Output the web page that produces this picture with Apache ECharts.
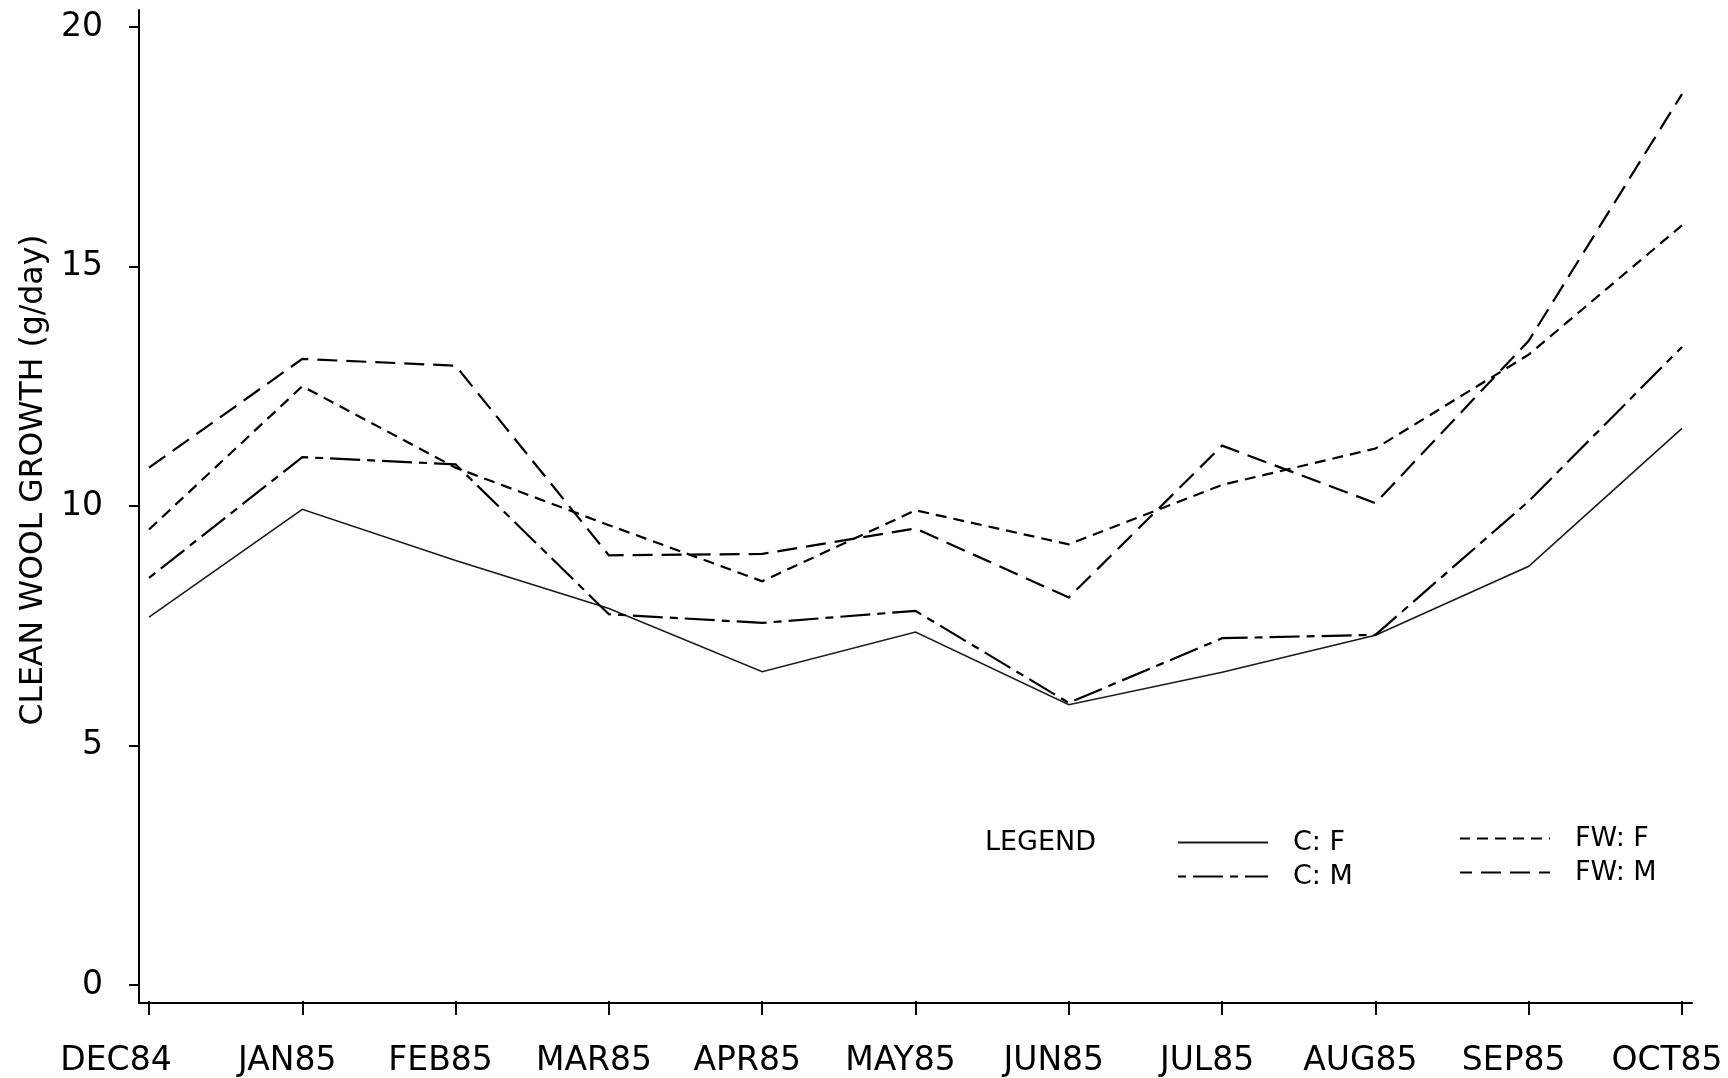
<!DOCTYPE html>
<html>
<head>
<meta charset="utf-8">
<title>Clean wool growth</title>
<script src="https://cdn.jsdelivr.net/npm/echarts@6/dist/echarts.min.js"></script>
<style>
  html, body { margin: 0; padding: 0; background: #fff; }
  #chart { width: 1728px; height: 1078px; }
</style>
</head>
<body>
<div id="chart"></div>
<script>
// Sampling months
const months = ['DEC84', 'JAN85', 'FEB85', 'MAR85', 'APR85', 'MAY85', 'JUN85', 'JUL85', 'AUG85', 'SEP85', 'OCT85'];

// Clean wool growth, g/day
const cF  = [7.68, 9.93, 8.86, 7.86, 6.54, 7.37, 5.85, 6.53, 7.30, 8.74, 11.62];
const cM  = [8.50, 11.02, 10.87, 7.74, 7.56, 7.81, 5.89, 7.24, 7.31, 10.10, 13.32];
const fwF = [9.51, 12.50, 10.80, 9.60, 8.43, 9.91, 9.20, 10.44, 11.20, 13.16, 15.86];
const fwM = [10.80, 13.07, 12.93, 8.97, 9.00, 9.53, 8.09, 11.26, 10.06, 13.45, 18.60];

const FONT = 'DejaVu Sans';
const INK = '#000';
const CLEAR = 'rgba(0,0,0,0)';

const chart = echarts.init(document.getElementById('chart'), null, { renderer: 'canvas' });

function lineSeries(name, data, style) {
  return {
    type: 'line',
    name: name,
    data: data,
    xAxisIndex: 0,
    yAxisIndex: 0,
    symbol: 'none',
    silent: true,
    itemStyle: { color: INK },
    lineStyle: Object.assign({ color: INK, width: 2.2, cap: 'butt', join: 'miter' }, style)
  };
}

const legendBase = {
  orient: 'vertical',
  itemWidth: 90,
  itemHeight: 14,
  itemGap: 7,
  selectedMode: false,
  itemStyle: { color: CLEAR, borderColor: CLEAR, borderWidth: 0 },
  textStyle: { fontFamily: FONT, fontSize: 27, color: INK, lineHeight: 26, padding: [0, 0, 0, 20] }
};

// month labels sit a little left of their ticks; the first one further still
const monthLabels = months.map((m, i) => ({
  value: m,
  textStyle: { padding: [0, i === 0 ? 66 : 30, 0, 0] }
}));

chart.setOption({
  animation: false,
  backgroundColor: '#fff',
  textStyle: { fontFamily: FONT, color: INK },
  title: {
    text: 'LEGEND',
    left: 985,
    top: 829,
    padding: 0,
    textStyle: { fontFamily: FONT, fontSize: 27, fontWeight: 'normal', color: INK }
  },
  legend: [
    Object.assign({ data: ['C: F', 'C: M'], left: 1172, top: 824 }, legendBase),
    Object.assign({ data: ['FW: F', 'FW: M'], left: 1454, top: 820 }, legendBase)
  ],
  grid: [
    // plotting area
    { left: 149, right: 46, top: 27, bottom: 93 },
    // outer frame carrying the two axis lines
    { left: 139, right: 36, top: 10, bottom: 75 },
    // month ticks and labels under the frame
    { left: 149, right: 46, top: 27, bottom: 75 }
  ],
  xAxis: [
    {
      type: 'category',
      gridIndex: 0,
      data: months,
      boundaryGap: false,
      show: false
    },
    {
      type: 'value',
      gridIndex: 1,
      min: 0,
      max: 1,
      axisLine: { show: true, lineStyle: { color: INK, width: 2 } },
      axisTick: { show: false },
      axisLabel: { show: false },
      splitLine: { show: false }
    },
    {
      type: 'category',
      gridIndex: 2,
      data: monthLabels,
      boundaryGap: false,
      axisLine: { show: false },
      axisTick: { show: true, inside: false, length: 14, lineStyle: { color: INK, width: 2 } },
      axisLabel: { fontFamily: FONT, fontSize: 33, color: INK, margin: 44 },
      splitLine: { show: false }
    }
  ],
  yAxis: [
    {
      type: 'value',
      gridIndex: 0,
      min: 0,
      max: 20,
      interval: 5,
      offset: 10,
      axisLine: { show: false },
      axisTick: { show: true, length: 10, lineStyle: { color: INK, width: 2 } },
      axisLabel: { fontFamily: FONT, fontSize: 33, color: INK, margin: 36, padding: [8, 0, 0, 0] },
      splitLine: { show: false },
      name: 'CLEAN WOOL GROWTH (g/day)',
      nameLocation: 'middle',
      nameRotate: 90,
      nameGap: 83,
      nameTextStyle: { fontFamily: FONT, fontSize: 31.5, color: INK, padding: [0, 0, 0, 52] }
    },
    {
      type: 'value',
      gridIndex: 1,
      min: 0,
      max: 1,
      axisLine: { show: true, lineStyle: { color: INK, width: 2 } },
      axisTick: { show: false },
      axisLabel: { show: false },
      splitLine: { show: false }
    },
    {
      type: 'value',
      gridIndex: 2,
      min: 0,
      max: 1,
      show: false
    }
  ],
  series: [
    lineSeries('C: F', cF, { type: 'solid', width: 1.6, color: '#1a1a1a' }),
    lineSeries('C: M', cM, { type: [30, 7, 8, 7], dashOffset: 37 }),
    lineSeries('FW: F', fwF, { type: [11, 7] }),
    lineSeries('FW: M', fwM, { type: [20, 9] })
  ]
});
</script>
</body>
</html>
